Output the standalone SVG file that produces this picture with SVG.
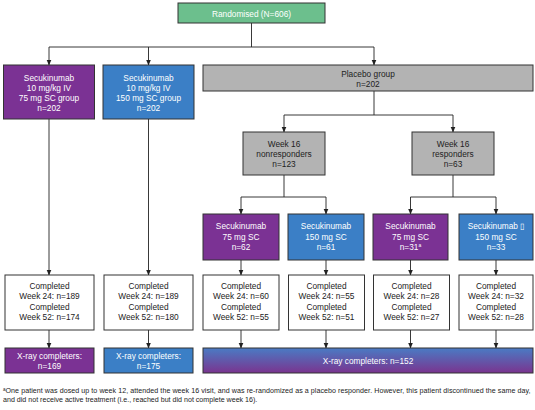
<svg xmlns="http://www.w3.org/2000/svg" width="535" height="410" viewBox="0 0 535 410">
<defs>
<marker id="ah" viewBox="0 0 6 6" refX="5.5" refY="3" markerWidth="6" markerHeight="6" markerUnits="userSpaceOnUse" orient="auto">
<path d="M0,0.5 L6,3 L0,5.5 Z" fill="#222"/>
</marker>
<linearGradient id="grad" x1="0" y1="0" x2="0" y2="1">
<stop offset="0" stop-color="#4a7bc4"/>
<stop offset="1" stop-color="#7a348f"/>
</linearGradient>
<style>
.bx{stroke:#333;stroke-width:1}
.g{fill:#6cbf8d}
.p{fill:#7b3294}
.b{fill:#3b7fc6}
.gr{fill:#b3b3b3}
.w{fill:#ffffff}
text{font-family:"Liberation Sans",Arial,sans-serif;font-size:8.3px;text-anchor:middle}
.tw{fill:#ffffff}
.td{fill:#222222}
.c line{stroke:#222;stroke-width:0.9;fill:none}
.fn{font-size:7.1px;text-anchor:start;fill:#222}
</style>
</defs>
<rect x="0" y="0" width="535" height="410" fill="#ffffff"/>

<g id="connectors" class="c">
<line x1="251.5" y1="23" x2="251.5" y2="47"/>
<line x1="49" y1="47" x2="374" y2="47"/>
<line x1="49" y1="47" x2="49" y2="65" marker-end="url(#ah)"/>
<line x1="148.5" y1="47" x2="148.5" y2="65" marker-end="url(#ah)"/>
<line x1="374" y1="47" x2="374" y2="65" marker-end="url(#ah)"/>
<line x1="374" y1="91" x2="374" y2="115"/>
<line x1="284" y1="115" x2="453" y2="115"/>
<line x1="284" y1="115" x2="284" y2="132" marker-end="url(#ah)"/>
<line x1="453" y1="115" x2="453" y2="132" marker-end="url(#ah)"/>
<line x1="284" y1="175" x2="284" y2="197"/>
<line x1="241" y1="197" x2="326" y2="197"/>
<line x1="241" y1="197" x2="241" y2="214" marker-end="url(#ah)"/>
<line x1="326" y1="197" x2="326" y2="214" marker-end="url(#ah)"/>
<line x1="453" y1="175" x2="453" y2="197"/>
<line x1="410.5" y1="197" x2="496" y2="197"/>
<line x1="410.5" y1="197" x2="410.5" y2="214" marker-end="url(#ah)"/>
<line x1="496" y1="197" x2="496" y2="214" marker-end="url(#ah)"/>
<line x1="49" y1="119" x2="49" y2="275" marker-end="url(#ah)"/>
<line x1="148.5" y1="119" x2="148.5" y2="275" marker-end="url(#ah)"/>
<line x1="241" y1="260" x2="241" y2="275" marker-end="url(#ah)"/>
<line x1="326" y1="260" x2="326" y2="275" marker-end="url(#ah)"/>
<line x1="410.5" y1="260" x2="410.5" y2="275" marker-end="url(#ah)"/>
<line x1="496" y1="260" x2="496" y2="275" marker-end="url(#ah)"/>
<line x1="49" y1="330" x2="49" y2="348" marker-end="url(#ah)"/>
<line x1="148.5" y1="330" x2="148.5" y2="348" marker-end="url(#ah)"/>
<line x1="241" y1="330" x2="241" y2="348" marker-end="url(#ah)"/>
<line x1="326" y1="330" x2="326" y2="348" marker-end="url(#ah)"/>
<line x1="410.5" y1="330" x2="410.5" y2="348" marker-end="url(#ah)"/>
<line x1="496" y1="330" x2="496" y2="348" marker-end="url(#ah)"/>
</g>

<g id="randomised">
<rect class="bx g" x="178" y="3" width="147" height="20"/>
<text class="tw" x="251.5" y="16.5" font-size="9.6">Randomised (N=606)</text>
</g>

<g id="sec75iv">
<rect class="bx p" x="3.5" y="65" width="91" height="54"/>
<text class="tw" x="49" y="81">Secukinumab</text>
<text class="tw" x="49" y="91">10 mg/kg IV</text>
<text class="tw" x="49" y="101">75 mg SC group</text>
<text class="tw" x="49" y="111">n=202</text>
</g>

<g id="sec150iv">
<rect class="bx b" x="103" y="65" width="91" height="54"/>
<text class="tw" x="148.5" y="81">Secukinumab</text>
<text class="tw" x="148.5" y="91">10 mg/kg IV</text>
<text class="tw" x="148.5" y="101">150 mg SC group</text>
<text class="tw" x="148.5" y="111">n=202</text>
</g>

<g id="placebo">
<rect class="bx gr" x="203" y="65" width="330" height="26"/>
<text class="td" x="368" y="76.5">Placebo group</text>
<text class="td" x="368" y="86.5">n=202</text>
</g>

<g id="nonresp">
<rect class="bx gr" x="243" y="132" width="82" height="43"/>
<text class="td" x="284" y="146.5">Week 16</text>
<text class="td" x="284" y="157">nonresponders</text>
<text class="td" x="284" y="167">n=123</text>
</g>

<g id="resp">
<rect class="bx gr" x="412" y="132" width="82" height="43"/>
<text class="td" x="453" y="146.5">Week 16</text>
<text class="td" x="453" y="157">responders</text>
<text class="td" x="453" y="167">n=63</text>
</g>

<g id="nr75">
<rect class="bx p" x="203" y="214" width="76" height="46"/>
<text class="tw" x="241" y="229">Secukinumab</text>
<text class="tw" x="241" y="239.5">75 mg SC</text>
<text class="tw" x="241" y="249.5">n=62</text>
</g>

<g id="nr150">
<rect class="bx b" x="288" y="214" width="76" height="46"/>
<text class="tw" x="326" y="229">Secukinumab</text>
<text class="tw" x="326" y="239.5">150 mg SC</text>
<text class="tw" x="326" y="249.5">n=61</text>
</g>

<g id="r75">
<rect class="bx p" x="373" y="214" width="75" height="46"/>
<text class="tw" x="410.5" y="229">Secukinumab</text>
<text class="tw" x="410.5" y="239.5">75 mg SC</text>
<text class="tw" x="410.5" y="249.5">n=31<tspan font-size="5" dy="-3">a</tspan></text>
</g>

<g id="r150">
<rect class="bx b" x="459" y="214" width="74" height="46"/>
<text class="tw" x="496" y="229">Secukinumab ▯</text>
<text class="tw" x="496" y="239.5">150 mg SC</text>
<text class="tw" x="496" y="249.5">n=33</text>
</g>

<g id="comp1">
<rect class="bx w" x="5" y="275" width="89" height="55"/>
<text class="td" x="49.5" y="289">Completed</text>
<text class="td" x="49.5" y="299">Week 24: n=189</text>
<text class="td" x="49.5" y="309.5">Completed</text>
<text class="td" x="49.5" y="319.5">Week 52: n=174</text>
</g>

<g id="comp2">
<rect class="bx w" x="104" y="275" width="89" height="55"/>
<text class="td" x="148.5" y="289">Completed</text>
<text class="td" x="148.5" y="299">Week 24: n=189</text>
<text class="td" x="148.5" y="309.5">Completed</text>
<text class="td" x="148.5" y="319.5">Week 52: n=180</text>
</g>

<g id="comp3">
<rect class="bx w" x="203" y="275" width="76" height="55"/>
<text class="td" x="241" y="289">Completed</text>
<text class="td" x="241" y="299">Week 24: n=60</text>
<text class="td" x="241" y="309.5">Completed</text>
<text class="td" x="241" y="319.5">Week 52: n=55</text>
</g>

<g id="comp4">
<rect class="bx w" x="288.5" y="275" width="76" height="55"/>
<text class="td" x="326.5" y="289">Completed</text>
<text class="td" x="326.5" y="299">Week 24: n=55</text>
<text class="td" x="326.5" y="309.5">Completed</text>
<text class="td" x="326.5" y="319.5">Week 52: n=51</text>
</g>

<g id="comp5">
<rect class="bx w" x="373.5" y="275" width="76" height="55"/>
<text class="td" x="411.5" y="289">Completed</text>
<text class="td" x="411.5" y="299">Week 24: n=28</text>
<text class="td" x="411.5" y="309.5">Completed</text>
<text class="td" x="411.5" y="319.5">Week 52: n=27</text>
</g>

<g id="comp6">
<rect class="bx w" x="459" y="275" width="74" height="55"/>
<text class="td" x="496" y="289">Completed</text>
<text class="td" x="496" y="299">Week 24: n=32</text>
<text class="td" x="496" y="309.5">Completed</text>
<text class="td" x="496" y="319.5">Week 52: n=28</text>
</g>

<g id="xray1">
<rect class="bx p" x="5" y="348" width="89" height="25"/>
<text class="tw" x="49.5" y="359">X-ray completers:</text>
<text class="tw" x="49.5" y="368.5">n=169</text>
</g>

<g id="xray2">
<rect class="bx b" x="104" y="348" width="89" height="25"/>
<text class="tw" x="148.5" y="359">X-ray completers:</text>
<text class="tw" x="148.5" y="368.5">n=175</text>
</g>

<g id="xray3">
<rect class="bx" x="203" y="348" width="330" height="25" fill="url(#grad)"/>
<text class="tw" x="368" y="363.5">X-ray completers: n=152</text>
</g>

<g id="footnote">
<text class="fn" x="3" y="393"><tspan font-size="4.5" dy="-2">a</tspan><tspan dy="2" textLength="525" lengthAdjust="spacing">One patient was dosed up to week 12, attended the week 16 visit, and was re-randomized as a placebo responder. However, this patient discontinued the same day,</tspan></text>
<text class="fn" x="3" y="402">and did not receive active treatment (i.e., reached but did not complete week 16).</text>
</g>
</svg>
